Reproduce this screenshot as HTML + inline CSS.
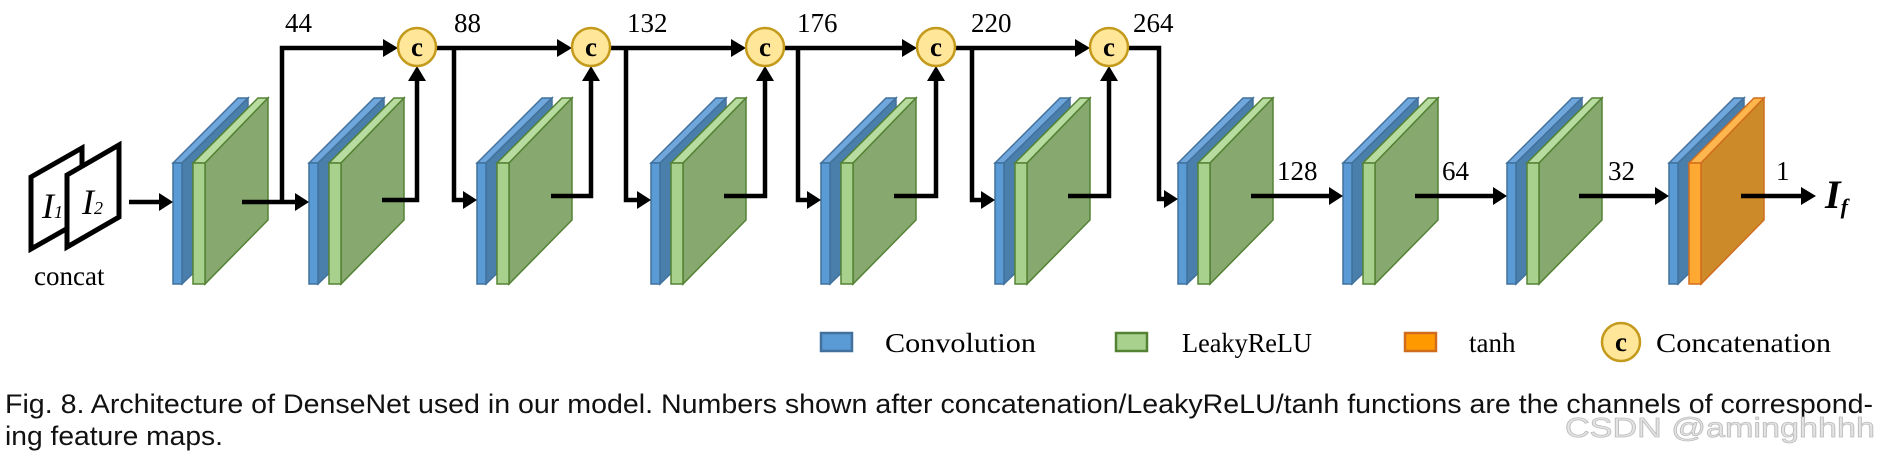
<!DOCTYPE html>
<html><head><meta charset="utf-8"><style>
html,body{margin:0;padding:0;background:#fff;}
svg{display:block;}
</style></head><body>
<svg width="1880" height="457" viewBox="0 0 1880 457" xmlns="http://www.w3.org/2000/svg">
<defs>
<g id="blk">
  <polygon points="0,163 65,98 75,98 9,163" fill="#6fa7dc" stroke="#41719c" stroke-width="1.5"/>
  <polygon points="9,163 75,98 75,220 9,284" fill="#4a7eab" stroke="#41719c" stroke-width="1.5"/>
  <rect x="0" y="163" width="9" height="121" fill="#5b9bd5" stroke="#41719c" stroke-width="1.5"/>
  <polygon points="20,163 85,98 95,98 32,163" fill="#b8dba0" stroke="#548235" stroke-width="1.5"/>
  <polygon points="32,163 95,98 95,220 32,284" fill="#87a86e" stroke="#548235" stroke-width="1.5"/>
  <rect x="20" y="163" width="12" height="121" fill="#a9d18e" stroke="#548235" stroke-width="1.5"/>
</g>
<g id="blko">
  <polygon points="0,163 65,98 75,98 9,163" fill="#6fa7dc" stroke="#41719c" stroke-width="1.5"/>
  <polygon points="9,163 75,98 75,220 9,284" fill="#4a7eab" stroke="#41719c" stroke-width="1.5"/>
  <rect x="0" y="163" width="9" height="121" fill="#5b9bd5" stroke="#41719c" stroke-width="1.5"/>
  <polygon points="20,163 85,98 95,98 32,163" fill="#ffb74d" stroke="#d06d1d" stroke-width="1.5"/>
  <polygon points="32,163 95,98 95,220 32,284" fill="#cc8a29" stroke="#d06d1d" stroke-width="1.5"/>
  <rect x="20" y="163" width="12" height="121" fill="#ffa832" stroke="#d06d1d" stroke-width="1.5"/>
</g>
<g id="cc">
  <circle cx="0" cy="0" r="19" fill="#ffe699" stroke="#c49a1c" stroke-width="2.5"/>
  <text x="0" y="9" text-anchor="middle" font-family="Liberation Serif, serif" font-weight="bold" font-size="27">c</text>
</g>
</defs>

<!-- input frames -->
<polygon points="31,177 82,148 82,220 31,249" fill="#fff" stroke="#000" stroke-width="5"/>
<polygon points="67,175 119,145 119,217 67,247" fill="#fff" stroke="#000" stroke-width="5"/>
<text x="42" y="218" font-family="Liberation Serif, serif" font-style="italic" font-size="36">I<tspan font-size="18">1</tspan></text>
<text x="82" y="214" font-family="Liberation Serif, serif" font-style="italic" font-size="36">I<tspan font-size="18">2</tspan></text>
<text x="34" y="285" font-family="Liberation Serif, serif" font-size="27">concat</text>

<!-- blocks -->
<use href="#blk" x="173"/>
<use href="#blk" x="309"/>
<use href="#blk" x="477"/>
<use href="#blk" x="651"/>
<use href="#blk" x="821"/>
<use href="#blk" x="995"/>
<use href="#blk" x="1178"/>
<use href="#blk" x="1343"/>
<use href="#blk" x="1507"/>
<use href="#blko" x="1669"/>

<!-- connectors -->
<g stroke="#000" stroke-width="4.5" fill="none">
  <line x1="129" y1="202" x2="160" y2="202"/>
  <line x1="242" y1="202" x2="296" y2="202"/>
  <polyline points="282,202 282,48 384,48"/>
  <polyline points="382,200 417,200 417,80"/>
  <line x1="436" y1="48" x2="558" y2="48"/>
  <polyline points="454,48 454,200 464,200"/>
  <polyline points="551,196 591,196 591,80"/>
  <line x1="610" y1="48" x2="732" y2="48"/>
  <polyline points="626,48 626,200 638,200"/>
  <polyline points="724,196 765,196 765,80"/>
  <line x1="784" y1="48" x2="903" y2="48"/>
  <polyline points="798,48 798,200 808,200"/>
  <polyline points="894,196 936,196 936,80"/>
  <line x1="955" y1="48" x2="1076" y2="48"/>
  <polyline points="972,48 972,200 982,200"/>
  <polyline points="1068,196 1109,196 1109,80"/>
  <polyline points="1128,48 1159,48 1159,199 1165,199"/>
  <line x1="1251" y1="196" x2="1330" y2="196"/>
  <line x1="1415" y1="196" x2="1494" y2="196"/>
  <line x1="1579" y1="196" x2="1656" y2="196"/>
  <line x1="1741" y1="196" x2="1802" y2="196"/>
</g>
<g fill="#000">
  <polygon points="159,193 173,202 159,211"/>
  <polygon points="295,193 309,202 295,211"/>
  <polygon points="383,39 398,48 383,57"/>
  <polygon points="408,81 417,66 426,81"/>
  <polygon points="463,191 477,200 463,209"/>
  <polygon points="557,39 572,48 557,57"/>
  <polygon points="582,81 591,66 600,81"/>
  <polygon points="637,191 651,200 637,209"/>
  <polygon points="731,39 746,48 731,57"/>
  <polygon points="756,81 765,66 774,81"/>
  <polygon points="807,191 821,200 807,209"/>
  <polygon points="902,39 917,48 902,57"/>
  <polygon points="927,81 936,66 945,81"/>
  <polygon points="981,191 995,200 981,209"/>
  <polygon points="1075,39 1090,48 1075,57"/>
  <polygon points="1100,81 1109,66 1118,81"/>
  <polygon points="1164,190 1178,199 1164,208"/>
  <polygon points="1329,187 1343,196 1329,205"/>
  <polygon points="1493,187 1507,196 1493,205"/>
  <polygon points="1655,187 1669,196 1655,205"/>
  <polygon points="1801,187 1816,196 1801,205"/>
</g>

<use href="#cc" x="417" y="47"/>
<use href="#cc" x="591" y="47"/>
<use href="#cc" x="765" y="47"/>
<use href="#cc" x="936" y="47"/>
<use href="#cc" x="1109" y="47"/>

<g font-family="Liberation Serif, serif" font-size="27" fill="#000">
  <text x="285" y="32">44</text>
  <text x="454" y="32">88</text>
  <text x="627" y="32">132</text>
  <text x="797" y="32">176</text>
  <text x="971" y="32">220</text>
  <text x="1133" y="32">264</text>
  <text x="1277" y="180">128</text>
  <text x="1442" y="180">64</text>
  <text x="1608" y="180">32</text>
  <text x="1776" y="180">1</text>
</g>
<text x="1825" y="208" font-family="Liberation Serif, serif" font-style="italic" font-weight="bold" font-size="40">I<tspan font-size="22" dy="6">f</tspan></text>

<!-- legend -->
<rect x="821" y="333" width="31" height="18" fill="#5b9bd5" stroke="#41719c" stroke-width="2.5"/>
<rect x="1116" y="333" width="31" height="18" fill="#a9d18e" stroke="#548235" stroke-width="2.5"/>
<rect x="1405" y="333" width="31" height="18" fill="#ff9900" stroke="#d06d1d" stroke-width="2.5"/>
<use href="#cc" x="1621" y="342"/>
<g font-family="Liberation Serif, serif" font-size="27" fill="#000">
  <text x="885" y="352" textLength="151" lengthAdjust="spacingAndGlyphs">Convolution</text>
  <text x="1182" y="352" textLength="130" lengthAdjust="spacingAndGlyphs">LeakyReLU</text>
  <text x="1469" y="352">tanh</text>
  <text x="1656" y="352" textLength="175" lengthAdjust="spacingAndGlyphs">Concatenation</text>
</g>

<!-- caption -->
<g font-family="Liberation Sans, Arial, sans-serif" font-size="27" fill="#111">
  <text x="5" y="413" textLength="1868" lengthAdjust="spacingAndGlyphs">Fig. 8. Architecture of DenseNet used in our model. Numbers shown after concatenation/LeakyReLU/tanh functions are the channels of correspond-</text>
  <text x="5" y="445" textLength="218" lengthAdjust="spacingAndGlyphs">ing feature maps.</text>
</g>
<text x="1565" y="437" font-family="Liberation Sans, Arial, sans-serif" font-size="28" fill="#e4e4e4" stroke="#bdbdbd" stroke-width="0.8" textLength="310" lengthAdjust="spacingAndGlyphs">CSDN @aminghhhh</text>
</svg>
</body></html>
